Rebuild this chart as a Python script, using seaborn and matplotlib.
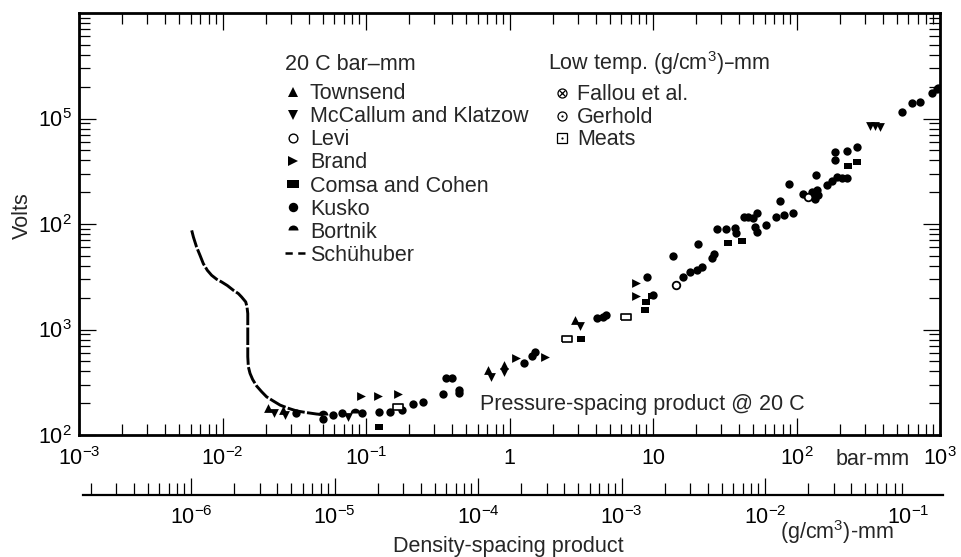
import numpy as np
import pandas as pd
import matplotlib
matplotlib.use("Agg")
import matplotlib.pyplot as plt
import matplotlib.lines as mlines
from matplotlib.ticker import FixedLocator, FixedFormatter, LogLocator, NullFormatter
import seaborn as sns

# ---------------- data (pressure-spacing in bar-mm, breakdown voltage in V) ----------------
schuhuber_x = [0.0061, 0.00627, 0.0066, 0.00697, 0.00735, 0.00784, 0.0084, 0.00912, 0.00987,
               0.01081, 0.0119, 0.0129, 0.0136, 0.01452, 0.01482, 0.0150, 0.0150, 0.0150,
               0.0150, 0.01514, 0.01555, 0.01622, 0.0173, 0.01875, 0.0203, 0.0226, 0.0252,
               0.0288, 0.0329, 0.0386, 0.0453, 0.0505]
schuhuber_y = [8700, 7520, 6040, 5050, 4210, 3640, 3265, 2990, 2820,
               2610, 2355, 2190, 2030, 1824, 1635, 1416, 1315, 738,
               551, 443, 384, 336, 291, 257, 230, 210, 192,
               179, 169, 163, 158, 156]

townsend_x = [0.0207, 0.0264, 0.708, 0.916, 2.86]
townsend_y = [180, 172, 412, 459, 1225]

mccallum_x = [0.0229, 0.0273, 0.0750, 0.743, 0.916, 3.10, 325, 352, 382]
mccallum_y = [161, 155, 148, 354, 394, 1075, 85700, 85700, 83800]

levi_x = [14.5, 120]
levi_y = [2625, 17870]

brand_x = [0.0923, 0.121, 0.167, 1.11, 1.77, 7.62, 7.62]
brand_y = [234, 234, 244, 535, 547, 2742, 2066]

comsa_x = [0.123, 3.15, 8.79, 8.93, 9.84, 33.3, 41.7, 229, 264]
comsa_y = [119, 809, 1523, 1813, 2066, 6546, 6841, 35800, 39100]

kusko_x = [0.0325, 0.0501, 0.0589, 0.0681, 0.0937, 0.123, 0.147, 0.178, 0.213, 0.249,
           0.344, 0.361, 0.397, 0.445, 0.445, 1.26, 1.43, 1.51, 4.07, 4.49,
           4.70, 9.08, 10.0, 13.8, 16.2, 18.1, 20.3, 21.9, 20.6, 25.8,
           26.6, 27.9, 32.3, 37.3, 37.9, 43.0, 45.9, 49.8, 51.4, 53.1,
           53.1, 61.3, 72.0, 76.7, 81.8, 94.6, 88.7, 111, 128, 130,
           135, 139, 141, 137, 163, 177, 191, 207, 225, 185,
           185, 225, 264, 543, 638, 726, 879, 953, 975]
kusko_y = [161, 142, 155, 161, 161, 165, 165, 172, 196, 205,
           244, 346, 346, 267, 250, 480, 559, 610, 1280, 1306,
           1365, 3124, 2110, 4936, 3124, 3484, 3639, 3883, 6412, 4733,
           5156, 8892, 8892, 9080, 8147, 11540, 11540, 11300, 9290, 12600,
           8337, 9705, 11540, 16700, 12050, 12600, 24200, 19450, 19900, 17870,
           17100, 20800, 18660, 29400, 23200, 25800, 27600, 27000, 27000, 40000,
           48600, 49700, 54200, 116000, 141000, 144000, 176000, 192000, 196000]

bortnik_x = [0.0501, 0.0838]
bortnik_y = [155, 161]

meats_x = [0.167, 2.52, 6.48]
meats_y = [184, 809, 1306]

x_ticks = [1e-3, 1e-2, 1e-1, 1, 10, 1e2, 1e3]
x_ticklabels = [r"$10^{-3}$", r"$10^{-2}$", r"$10^{-1}$", "1", "10", r"$10^{2}$", r"$10^{3}$"]
y_ticks = [1e2, 1e3, 1e4, 1e5]
y_ticklabels = [r"$10^{2}$", r"$10^{3}$", r"$10^{2}$", r"$10^{5}$"]
d_ticks = [1e-6, 1e-5, 1e-4, 1e-3, 1e-2, 1e-1]
d_ticklabels = [r"$10^{-6}$", r"$10^{-5}$", r"$10^{-4}$", r"$10^{-3}$", r"$10^{-2}$", r"$10^{-1}$"]

legend_bar = ["Townsend", "McCallum and Klatzow", "Levi", "Brand", "Comsa and Cohen",
              "Kusko", "Bortnik", "Schühuber"]
legend_density = ["Fallou et al.", "Gerhold", "Meats"]

# ---------------- style ----------------
sns.set_theme(style="ticks")
plt.rcParams["font.family"] = ["Liberation Sans", "DejaVu Sans"]
plt.rcParams["mathtext.default"] = "regular"
FS = 15.5

W, H = 961, 557
fig = plt.figure(figsize=(W / 100, H / 100), dpi=100)
fig.patch.set_facecolor("white")


def fx(px):
    return px / W


def fy(py):
    return 1 - py / H


ax = fig.add_axes([fx(79), fy(435), fx(940) - fx(79), fy(13) - fy(435)])
ax.set_facecolor("white")
ax.set_xscale("log")
ax.set_yscale("log")
ax.set_xlim(1e-3, 1e3)
ax.set_ylim(1e2, 1e6)

# wide rectangle marker used for Comsa and Cohen
rect = [(-1, -0.62), (1, -0.62), (1, 0.62), (-1, 0.62), (-1, -0.62)]

# ---------------- curve and measured points ----------------
curve = pd.DataFrame({"x": schuhuber_x, "y": schuhuber_y})
sns.lineplot(data=curve, x="x", y="y", sort=False, color="black", lw=2.1,
             dashes=False, ax=ax, legend=False, estimator=None)
ax.lines[-1].set_dashes((6.0, 0.8))

series = [
    (townsend_x, townsend_y, "^", 40),
    (mccallum_x, mccallum_y, "v", 40),
    (brand_x, brand_y, ">", 40),
    (comsa_x, comsa_y, rect, 40),
    (kusko_x, kusko_y, "o", 36),
]
for xs, ys, mk, size in series:
    df = pd.DataFrame({"x": xs, "y": ys})
    sns.scatterplot(data=df, x="x", y="y", marker=mk, s=size, color="black",
                    linewidth=0, ax=ax, legend=False, zorder=3)

ax.scatter(levi_x, levi_y, marker="o", s=30, facecolors="white", edgecolors="black",
           linewidths=1.3, zorder=4)
ax.scatter(meats_x, meats_y, marker=rect, s=44, facecolors="white", edgecolors="black",
           linewidths=1.2, zorder=4)
ax.plot(bortnik_x, bortnik_y, ls="none", marker="o", ms=7, fillstyle="top",
        markerfacecolor="black", markerfacecoloralt="none", markeredgewidth=0, zorder=3)

# ---------------- axes styling ----------------
for sp in ax.spines.values():
    sp.set_visible(True)
    sp.set_linewidth(2.0)
    sp.set_color("black")

ax.xaxis.set_major_locator(FixedLocator(x_ticks))
ax.xaxis.set_major_formatter(FixedFormatter(x_ticklabels))
ax.xaxis.set_minor_locator(LogLocator(base=10, subs=np.arange(2, 10)))
ax.xaxis.set_minor_formatter(NullFormatter())
ax.yaxis.set_major_locator(FixedLocator(y_ticks))
ax.yaxis.set_major_formatter(FixedFormatter(y_ticklabels))
ax.yaxis.set_minor_locator(LogLocator(base=10, subs=np.arange(2, 10), numticks=20))
ax.yaxis.set_minor_formatter(NullFormatter())

ax.tick_params(which="both", direction="in", top=True, right=True, color="black",
               width=0.9, labelsize=FS, labelcolor="black")
ax.tick_params(which="major", length=12)
ax.tick_params(which="minor", length=8)
ax.tick_params(axis="x", which="major", pad=9)
ax.tick_params(axis="y", which="major", pad=5)
ax.set_xlabel("")
ax.set_ylabel("")

# ---------------- density-spacing scale ----------------
ax2 = fig.add_axes([fx(83), fy(495), fx(943) - fx(83), 0.05])
ax2.set_facecolor("none")
ax2.set_xscale("log")
ax2.set_xlim(10 ** -6.753, 10 ** -0.760)
for name in ("top", "left", "right"):
    ax2.spines[name].set_visible(False)
ax2.spines["bottom"].set_linewidth(1.6)
ax2.spines["bottom"].set_color("black")
ax2.yaxis.set_visible(False)
ax2.xaxis.set_major_locator(FixedLocator(d_ticks))
ax2.xaxis.set_major_formatter(FixedFormatter(d_ticklabels))
ax2.xaxis.set_minor_locator(LogLocator(base=10, subs=np.arange(2, 10), numticks=20))
ax2.xaxis.set_minor_formatter(NullFormatter())
ax2.tick_params(which="both", direction="in", color="black", width=0.9,
                labelsize=FS, labelcolor="black", pad=8)
ax2.tick_params(which="major", length=12)
ax2.tick_params(which="minor", length=8.5)
ax2.xaxis.get_major_ticks()[-1].tick1line.set_visible(False)

# ---------------- free text ----------------
fig.text(fx(22), fy(216), "Volts", rotation=90, ha="center", va="center", fontsize=FS)
fig.text(fx(873), fy(465), "bar-mm", ha="center", va="baseline", fontsize=FS)
fig.text(fx(780), fy(539), r"(g/cm$^{3}$)-mm", ha="left", va="baseline", fontsize=FS)
fig.text(fx(508), fy(552), "Density-spacing product", ha="center", va="baseline", fontsize=FS)
fig.text(fx(480), fy(410), "Pressure-spacing product @ 20 C", ha="left", va="baseline",
         fontsize=FS)

# ---------------- key: bar-mm sources ----------------
fig.text(fx(285), fy(70), "20 C bar\u2013mm", ha="left", va="baseline", fontsize=FS)
row0, step = 99.0, 23.15
key_styles = [
    dict(marker="^", ms=7, mfc="black", mec="black", mew=0),
    dict(marker="v", ms=7, mfc="black", mec="black", mew=0),
    dict(marker="o", ms=6.3, mfc="white", mec="black", mew=1.0),
    dict(marker=">", ms=7, mfc="black", mec="black", mew=0),
    dict(marker=rect, ms=8.5, mfc="black", mec="black", mew=0),
    dict(marker="o", ms=6.8, mfc="black", mec="black", mew=0),
    dict(marker="o", ms=7.2, mfc="black", mfcalt="none", fillstyle="top", mew=0),
]
for i, label in enumerate(legend_bar):
    base = row0 + i * step
    fig.text(fx(310), fy(base), label, ha="left", va="baseline", fontsize=FS)
    if i < len(key_styles):
        fig.add_artist(mlines.Line2D([fx(293)], [fy(base - 7.5)], transform=fig.transFigure,
                                     ls="none", **key_styles[i]))
    else:
        fig.add_artist(mlines.Line2D([fx(285), fx(305)], [fy(base - 8), fy(base - 8)],
                                     transform=fig.transFigure, color="black", lw=1.8,
                                     dashes=(2.9, 2.2)))

# ---------------- key: density sources ----------------
fig.text(fx(548), fy(70), "Low temp. (g/cm$^{3}$)\u2013mm", ha="left", va="baseline",
         fontsize=FS)
drow0, dstep = 100.0, 22.6
for i, label in enumerate(legend_density):
    base = drow0 + i * dstep
    cy = fy(base - 7)
    fig.text(fx(577), fy(base), label, ha="left", va="baseline", fontsize=FS)
    outline = "s" if i == 2 else "o"
    fig.add_artist(mlines.Line2D([fx(562)], [cy], transform=fig.transFigure, ls="none",
                                 marker=outline, ms=6.5, mfc="white", mec="black", mew=0.9))
    if i == 0:
        fig.add_artist(mlines.Line2D([fx(562)], [cy], transform=fig.transFigure, ls="none",
                                     marker="x", ms=4.2, mec="black", mew=0.9))
    else:
        fig.add_artist(mlines.Line2D([fx(562)], [cy], transform=fig.transFigure, ls="none",
                                     marker="o", ms=1.6, mfc="black", mec="black", mew=0))

fig.savefig("out.png", dpi=100, facecolor="white")
